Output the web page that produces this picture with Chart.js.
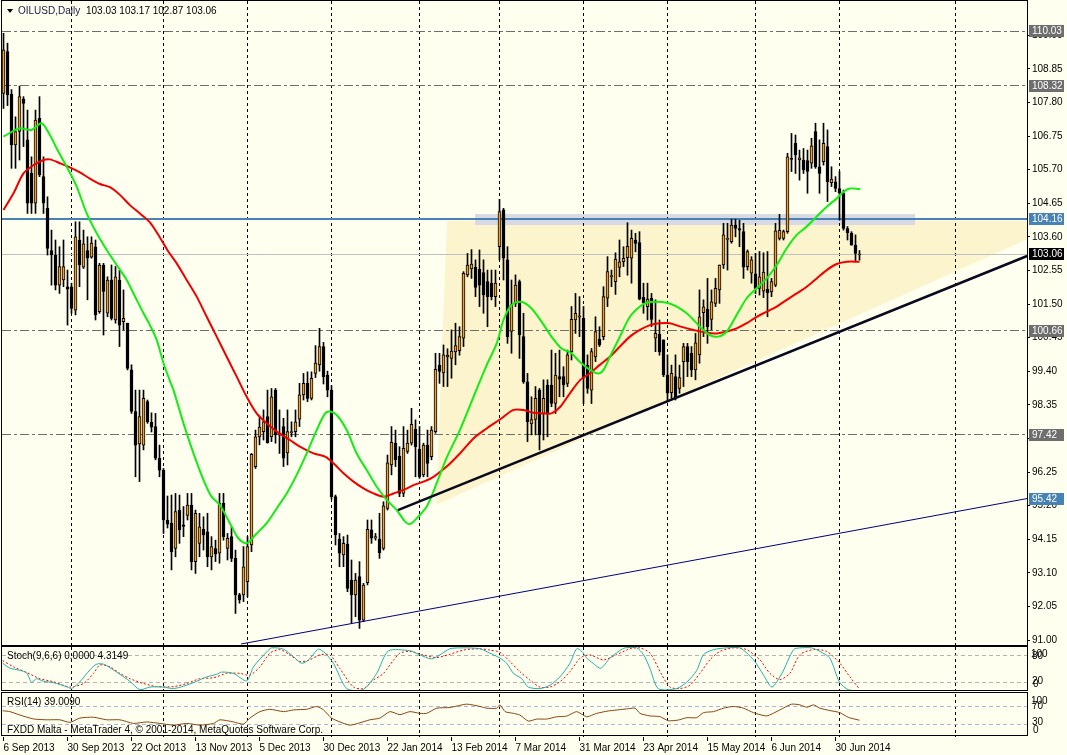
<!DOCTYPE html>
<html>
<head>
<meta charset="utf-8">
<script src="https://cdn.jsdelivr.net/npm/chart.js@4.4.1/dist/chart.umd.min.js"></script>
<style>
html, body { margin: 0; padding: 0; background: #fffff0; }
#wrap { position: relative; width: 1067px; height: 755px; background: #fffff0; overflow: hidden; }
canvas { position: absolute; left: 0; }
#cMain { top: 0; }
#cStoch { top: 646px; }
#cRsi { top: 692px; }
</style>
</head>
<body>
<div id="wrap">
  <canvas id="cMain" width="1067" height="646"></canvas>
  <canvas id="cStoch" width="1067" height="46"></canvas>
  <canvas id="cRsi" width="1067" height="63"></canvas>
</div>
<script>
// ---- data (bar index 0 = 6 Sep 2013, one bar per trading day) ----
const opens = [
  108.08,109.39,108.05,106.47,106.89,107.9,106.63,105.58,104.65,107.3,
  105.48,104.49,103.17,103.03,102.09,102.25,102.04,102.04,101.31,103.5,
  102.65,103.17,102.96,103.29,101.26,102.72,101.21,102.25,101.0,102.25,
  100.95,100.9,99.44,98.14,97.13,97.09,98.45,97.8,97.67,96.68,
  96.31,94.75,94.65,93.86,95.06,94.6,94.89,95.22,93.45,94.02,
  94.46,94.38,93.6,93.86,93.71,95.27,93.86,94.23,93.55,92.41,
  92.41,92.82,93.97,96.42,97.35,97.51,97.98,97.35,98.81,97.4,
  97.67,96.85,97.48,97.51,97.9,98.66,99.02,98.55,99.33,99.6,
  100.17,99.28,98.81,95.48,94.15,93.66,94.0,92.87,92.41,92.98,
  91.62,92.79,94.44,94.18,94.15,93.86,95.11,96.47,97.15,96.75,
  95.58,96.89,97.15,97.58,96.96,96.16,97.09,96.73,97.51,99.59,
  99.35,99.85,99.8,100.0,100.04,100.43,102.41,102.6,102.65,102.58,
  102.48,102.2,102.15,101.73,103.29,104.44,102.88,100.64,101.52,102.2,
  100.48,99.07,97.75,97.89,98.81,98.08,98.97,98.97,98.39,99.23,
  99.23,99.02,100.01,101.0,101.09,101.05,99.59,98.81,99.85,100.4,
  100.48,101.68,102.35,102.2,102.64,102.82,102.95,102.93,103.5,103.42,
  101.71,101.42,101.68,100.43,100.55,100.38,99.28,98.73,99.23,98.86,
  99.7,100.17,99.96,99.44,99.91,101.23,101.33,101.02,101.52,101.94,
  102.72,103.52,103.45,103.97,103.86,103.76,102.67,102.46,102.44,101.99,
  101.9,101.96,101.88,102.09,103.55,103.55,103.76,106.05,106.52,106.0,
  106.0,105.98,105.9,106.89,105.79,105.95,106.42,105.29,105.32,105.11,
  104.96,103.86,103.71,103.34,103.03
];
const highs = [
  109.96,109.65,108.2,107.35,108.31,107.98,107.56,106.1,107.56,107.98,
  106.1,104.85,103.81,103.5,103.29,103.5,102.56,102.15,104.07,104.07,
  103.81,103.6,103.6,103.5,102.77,102.77,102.35,102.72,102.67,102.56,
  101.94,100.9,99.6,98.81,98.81,98.81,98.5,98.1,98.08,97.09,
  96.36,95.5,95.53,95.58,95.53,95.17,95.58,95.58,95.06,94.96,
  94.85,94.96,94.23,94.12,95.58,95.58,94.33,94.54,93.81,92.46,
  93.92,94.23,96.83,97.56,98.0,98.19,98.81,98.86,98.86,98.19,
  97.93,98.19,97.82,98.19,99.02,99.33,99.38,99.38,100.2,100.74,
  100.3,99.4,98.95,95.53,94.33,94.23,94.28,93.5,93.08,93.45,
  92.77,94.75,94.75,94.33,94.96,95.32,96.78,97.67,97.56,97.04,
  97.67,97.56,98.24,97.88,97.67,97.15,97.56,97.67,99.96,99.96,
  100.22,100.1,100.69,100.9,100.79,102.51,103.08,103.2,102.88,103.19,
  102.88,102.56,102.56,102.56,104.77,104.49,103.29,102.25,102.41,102.25,
  101.21,99.33,98.6,98.92,98.86,99.13,99.13,100.06,99.96,100.06,
  99.54,100.06,101.42,101.83,101.73,101.42,99.91,100.11,101.1,100.79,
  102.04,102.98,102.56,103.1,103.5,103.29,104.04,103.81,103.71,103.76,
  102.15,102.15,101.83,101.63,101.0,100.38,99.91,99.59,99.91,99.59,
  100.27,100.27,100.17,100.58,101.94,101.63,102.3,101.94,102.3,102.72,
  104.02,104.02,104.15,104.15,104.12,104.02,103.19,102.98,103.08,103.14,
  103.1,103.14,102.3,104.02,104.3,103.81,106.21,106.83,106.78,106.31,
  106.36,106.31,106.68,107.15,106.63,107.15,106.94,105.79,105.48,105.64,
  105.06,103.92,103.76,103.66,103.17
];
const lows = [
  107.61,107.7,105.74,105.74,106.0,106.42,104.33,104.33,104.33,105.48,
  104.33,103.03,102.09,101.94,101.83,102.04,100.84,101.21,101.16,102.04,
  102.61,101.63,102.93,101.0,101.21,100.53,101.1,101.0,100.9,100.17,
  100.69,99.44,98.08,96.1,95.95,96.94,97.77,97.5,96.63,96.1,
  94.33,94.5,93.19,93.6,94.02,94.23,94.75,93.19,93.08,93.6,
  93.81,93.29,93.19,93.45,93.4,94.12,93.5,93.45,91.83,92.15,
  92.2,92.35,93.76,96.36,97.1,97.25,97.15,97.2,97.15,96.83,
  96.42,96.47,97.35,97.35,97.67,98.5,98.45,98.5,99.2,99.4,
  99.0,98.6,95.4,93.97,93.29,93.29,92.51,91.52,91.73,91.36,
  91.57,92.72,94.02,94.12,93.55,93.81,95.06,96.16,96.42,95.48,
  95.48,96.83,97.09,96.1,96.05,96.1,96.1,96.63,97.46,99.02,
  98.92,98.92,99.18,99.6,99.9,100.17,102.35,102.3,101.73,101.42,
  101.21,100.79,101.63,101.42,102.88,102.25,100.27,99.96,101.42,99.8,
  99.02,97.2,97.41,97.41,96.94,97.25,97.35,98.29,98.08,98.6,
  98.6,98.92,99.75,100.58,100.48,98.39,98.71,98.39,99.7,100.17,
  100.38,101.42,102.04,101.8,102.35,102.67,102.4,102.15,103.13,101.63,
  101.21,101.0,100.79,100.01,99.9,99.23,98.45,98.55,98.5,98.71,
  98.92,99.23,99.23,99.13,99.65,100.48,100.27,100.69,101.42,101.52,
  102.61,102.56,103.4,103.6,103.29,102.3,102.56,102.15,101.83,101.78,
  101.7,101.1,101.73,102.04,103.5,103.5,103.71,105.64,105.58,105.37,
  105.58,104.96,105.74,105.74,104.96,105.84,104.7,105.17,105.01,104.12,
  103.81,103.5,103.34,102.82,102.87
];
const closes = [
  109.44,108.03,106.47,106.89,107.98,107.77,104.65,104.65,107.25,105.53,
  104.65,103.24,103.03,102.09,102.67,102.67,101.96,101.36,103.6,102.72,
  103.38,102.93,103.4,101.16,102.72,101.89,102.25,101.05,102.35,100.84,
  101.05,99.49,98.14,97.09,97.98,98.55,97.82,97.65,96.68,96.31,
  94.75,94.62,93.76,95.01,94.44,94.55,95.22,93.45,94.96,94.54,
  94.28,93.6,93.92,93.68,95.27,94.23,94.18,93.55,92.41,92.25,
  93.29,93.92,96.8,97.35,97.65,97.82,97.17,98.6,97.41,97.46,
  96.68,97.51,97.5,97.82,98.66,99.02,98.55,99.18,99.65,100.17,
  99.23,98.81,95.48,94.28,93.71,94.02,92.61,92.41,92.87,91.62,
  92.72,94.46,94.18,94.23,93.73,95.19,96.54,97.18,96.63,95.58,
  96.99,97.15,97.74,97.04,96.1,97.09,96.52,97.56,99.46,99.39,
  99.91,99.9,100.03,100.2,100.48,102.46,102.72,102.75,102.02,102.09,
  101.78,101.73,101.73,102.15,104.39,102.93,100.48,101.48,102.09,100.53,
  99.07,97.82,97.89,98.55,97.41,98.55,98.08,98.39,99.28,99.15,
  98.97,99.91,101.02,101.21,101.13,99.18,98.86,100.01,100.64,100.22,
  101.73,102.51,102.39,102.9,102.82,102.93,103.3,103.55,103.39,101.65,
  101.54,101.65,101.02,100.58,100.0,99.28,98.71,99.33,98.55,99.2,
  100.17,99.7,99.44,100.29,101.1,101.41,100.79,101.57,101.99,102.72,
  103.66,103.55,103.97,103.86,103.81,102.65,103.14,102.88,101.99,102.35,
  102.5,101.85,102.2,103.79,103.8,103.76,106.1,106.02,106.16,106.07,
  105.69,105.64,106.44,105.79,105.58,106.52,105.32,105.4,105.11,104.96,
  103.86,103.73,103.34,103.08,103.06
];
const bars = opens.map((o, i) => i);

// moving averages, read as [bar, price]
const fastMA = [
  [0,106.73],[4,106.99],[7,106.94],[9.5,107.15],[11.6,106.78],[13.3,106.36],[15.8,105.79],[18.3,105.17],
  [20.8,104.33],[23.3,103.71],[25.8,103.19],[28.3,102.72],[30.8,102.25],[33.3,101.63],[35,101.21],[36.6,100.84],
  [38.3,100.38],[40,99.65],[41.6,99.1],[42.5,98.81],[45,97.77],[47.5,96.83],[50,96.0],[52,95.48],[54.1,95.22],
  [56.6,94.65],[58.7,94.18],[60.8,94.02],[63.3,94.33],[65.8,94.65],[68.3,95.11],[70.8,95.58],[73.3,96.16],
  [75.8,96.83],[78.3,97.56],[80.4,98.08],[81.6,98.14],[83.3,98.03],[85.8,97.56],[88.3,96.83],[90.8,96.31],
  [93.3,95.79],[95.8,95.38],[98.3,95.06],[100.4,94.7],[101.6,94.62],[103.3,94.8],[105.8,95.17],[108.3,95.9],
  [110.8,96.7],[114.1,97.56],[117.5,98.6],[120.8,99.59],[123.3,100.27],[125,101.0],[127,101.47],[129.5,101.57],
  [132,101.36],[134.5,100.95],[137,100.48],[139.5,100.11],[142,99.96],[144,99.7],[146.6,99.44],[148.7,99.33],
  [150,99.44],[151.6,99.85],[154.1,100.48],[156.6,101.1],[159.1,101.42],[160.8,101.54],[163.3,101.57],
  [165.8,101.54],[168.3,101.42],[170.8,101.21],[172.9,100.95],[174.1,100.79],[176.6,100.53],[178.7,100.48],
  [180.8,100.64],[183.3,101.16],[185.8,101.68],[188.3,101.99],[190.8,102.3],[193.3,102.72],[195.8,103.24],
  [198.3,103.66],[200.8,103.92],[203.3,104.23],[205.8,104.54],[208.3,104.8],[210,105.01],[211.6,105.11],[214.2,105.09]
];
const slowMA = [
  [0,104.44],[2.5,104.96],[5,105.58],[7.5,105.84],[10,106.0],[11.6,106.02],[14.1,105.9],[16.6,105.77],
  [19.1,105.61],[21.6,105.42],[24.1,105.25],[26.6,105.15],[29.1,104.91],[31.6,104.59],[34.1,104.33],[36.6,104.05],
  [39.1,103.58],[41.2,103.14],[43.3,102.77],[45.8,102.25],[48.3,101.73],[50.8,101.1],[53.3,100.48],[55.8,99.85],
  [58.3,99.23],[60.8,98.6],[63.3,98.08],[65.8,97.77],[68.3,97.51],[71.6,97.25],[74.1,97.04],[77.5,96.83],
  [80.4,96.73],[82.5,96.52],[85,96.21],[87.5,95.95],[90,95.74],[92.5,95.58],[95,95.48],[97.5,95.58],[100,95.69],
  [102.5,95.84],[105,95.95],[107.5,96.1],[110.8,96.42],[114.1,96.83],[117.5,97.3],[120.8,97.61],[124.2,97.9],
  [127.5,98.19],[130,98.19],[132.5,98.1],[135,98.08],[137,98.08],[139.2,98.29],[141.6,98.71],[144.2,99.13],
  [146.6,99.33],[149,99.59],[151.6,99.85],[154.1,100.17],[156.6,100.48],[159.1,100.69],[161.6,100.84],
  [164.1,100.9],[166.6,100.9],[169.1,100.8],[172.5,100.69],[175.8,100.6],[178.3,100.58],[180.8,100.64],
  [183.3,100.74],[185.8,100.9],[188.3,101.1],[190.8,101.26],[193.3,101.42],[195.8,101.63],[198.3,101.83],
  [200.8,102.04],[203.3,102.3],[205.8,102.56],[208.3,102.75],[210.8,102.82],[214,102.82]
];

// stochastic (9,6,6) %K and %D, RSI(14), read as [bar, value]
const stochK = [
  [-0.2,63],[1.6,52],[4.1,47],[5.8,41],[7,20],[8.3,28],[10,22],[12.5,19],[16,9],[17,5.5],[19,20],[21.6,48],
  [23.3,61],[25,61],[26.6,53],[29.1,38],[31.6,22],[34.1,3],[36.6,9],[39.9,9],[42.5,5.5],[45,11],[48.3,22],
  [50.8,32],[53.3,38],[54.5,43],[57.5,40],[60.8,23],[62.5,55],[65.8,89],[67,98],[70,95],[72.5,78],[74.5,63],
  [76.2,70],[78.7,95],[80.4,86],[82.5,63],[85.8,5.5],[89.9,3],[93.3,40],[96.2,91],[101.6,91.5],[104.1,82],
  [107,73],[109.1,82],[111.6,96],[115,98],[119.1,96],[121.6,86],[124.1,75],[125.8,63],[127.5,40],[129.5,28.5],
  [131.2,9],[134.1,5.5],[136.6,13],[139.1,32],[141.6,63],[143.3,96],[144.6,90],[145.8,75],[147.4,63],[149.3,51.6],
  [151.6,74.6],[154.1,92],[155.4,98],[158.3,98],[160,82.7],[161.6,51.6],[163.7,5.5],[168.3,5.5],[170.8,20],
  [173.3,46.5],[175,82.7],[177.5,94],[180.8,98],[184.1,98],[187.5,71],[190,36.4],[192.1,9],[194.6,40],[197.5,94],
  [199.1,98],[202,98],[204.1,90],[206.6,74.6],[209,20],[211.2,3],[214,0]
];
const stochD = [
  [-0.2,69],[2.5,55],[5.8,42],[9.1,28],[12.5,21],[16.6,9],[20,17],[22.5,40],[24.1,59],[26.6,55],[29.1,40],
  [31.6,28],[35,17],[38.3,10],[42.5,10],[45.8,17],[49.1,28],[52.5,30],[55.8,40],[59.1,40],[61.6,36],[64.1,55],
  [66.6,86],[69.1,94],[71.6,82],[74.1,67],[76.6,71],[79.1,82],[81.6,82],[84.1,51],[87.5,9],[90,5.5],[92.5,25],
  [95,40],[97.5,70],[99.1,86],[101.6,90],[104.9,82],[108.3,76],[111.6,83.5],[114.95,93],[119.1,96],[121.6,93],
  [124.1,88],[126.6,67],[129.1,44],[131.6,25],[134.1,9],[136.6,9],[139.1,21],[141.6,44],[144.2,75],[146.6,82],
  [150,70.5],[153.3,82.7],[156.6,96],[159.1,98],[161.6,86.5],[164.6,36.4],[166.6,9],[169.1,5.5],[171.6,13],
  [174.1,40],[176.6,71],[179.1,90],[182.5,98],[185.8,94],[189.1,71],[191.6,40],[194.1,26],[196.6,40],[199.1,82.7],
  [202.5,94],[205.8,90],[209.1,63],[211.6,32],[214,4.3]
];
const rsi = [
  [-0.2,61],[1.6,59],[4.1,51],[7.5,42],[10.8,40],[14.1,40],[16.6,34],[19.1,44],[22.5,46],[25.8,40],[29.1,40],
  [32.5,31.6],[35.8,35],[39.1,31.6],[42.5,27.6],[45.8,31.6],[49.1,27.6],[52.5,31.6],[54.1,40],[57.5,35],[60,30],
  [61.6,44],[64.1,59],[66.6,64.5],[70,59],[72.5,63],[75.8,64.5],[78.3,71],[80,63],[82,44],[84.1,35],[86.6,27.6],
  [89.1,33],[91.6,40],[94.1,44],[96.6,59],[99.1,52],[101.6,59],[104.1,55],[105.8,55],[108.3,67],[111.6,68.6],
  [115.8,76.4],[119.1,71],[120.8,67],[123.3,67],[124.1,74.8],[125.4,59],[127.5,55],[129.1,51],[131.2,37],
  [133.3,41.7],[135.8,41.7],[138.3,47],[140.8,48.6],[143.3,59],[145.8,47],[148.3,55],[151.2,60.5],[155.8,65.3],
  [157.9,67],[159.1,55],[161.6,49],[164.1,47.4],[166.2,37.8],[168.7,39.4],[170.8,44.9],[173.3,44.9],[175,56.7],
  [177.5,59],[180,67],[182.5,71],[185,67],[187.5,56.7],[190.8,49],[194.1,63],[197,76.3],[199.1,74.7],[200.8,69.2],
  [202.5,74.7],[204.1,67],[206.6,61.5],[209.1,56.7],[211.2,45.7],[214,39]
];

// drawn objects: trend lines, triangle, zone, horizontal levels
const supportLine = [[98.6,95.06],[255.9,103.0]];
const lowerLine = [[59.4,90.875],[255.9,95.42]];
const triangle = [[110.9,104.1],[108.1,95.22],[266.1,104.1]];
const zoneBars = [117.9, 227.9];
const zonePrices = [103.97, 104.31];
const dashLevels = [110.03, 108.32, 100.66, 97.42];
const resistance = 104.16;
const bid = 103.06;
const markerLevels = [110.03, 108.32, 104.16, 103.06, 100.66, 97.42, 95.42];

// axes
const priceTicks = [91.00,92.05,93.10,94.15,95.20,96.25,97.30,98.35,99.40,100.45,101.50,102.55,103.60,104.65,105.70,106.75,107.80,108.85,109.90];
const dateIdx = [0,16,32,48,64,80,96,112,128,144,160,176,192,208];
const dateLabels = ['6 Sep 2013','30 Sep 2013','22 Oct 2013','13 Nov 2013','5 Dec 2013','30 Dec 2013','22 Jan 2014',
  '13 Feb 2014','7 Mar 2014','31 Mar 2014','23 Apr 2014','15 May 2014','6 Jun 2014','30 Jun 2014'];
const monthIdx = [17,40,61,82,104,124,145,166,188,209,238];

// ---- styles ----
const FONT = "'Liberation Sans', Arial, sans-serif";
const FSIZE = 10;
const BG = '#fffff0';
const BULL = '#f0a030';
const markerColors = ['#6e6e6e','#6e6e6e','#4682b4','#000000','#6e6e6e','#6e6e6e','#4682b4'];
const X_MIN = -0.375, X_MAX = 255.875;
const P_MIN = 90.84375, P_MAX = 110.96875;

Chart.defaults.font.family = FONT;
Chart.defaults.font.size = FSIZE;
Chart.defaults.color = '#000';

const pts = arr => arr.map(p => ({x: p[0], y: p[1]}));

function hLine(chart, v, color, width, dash) {
  const {ctx, chartArea: a, scales: {y}} = chart;
  let py = y.getPixelForValue(v);
  if (width % 2 === 1) py = Math.round(py - 0.5) + 0.5;
  ctx.save();
  ctx.strokeStyle = color; ctx.lineWidth = width; ctx.setLineDash(dash || []);
  ctx.beginPath(); ctx.moveTo(a.left, py); ctx.lineTo(a.right, py); ctx.stroke();
  ctx.restore();
}

function monthGrid(chart) {
  const {ctx, chartArea: a, scales: {x}} = chart;
  ctx.save();
  ctx.strokeStyle = '#000'; ctx.lineWidth = 1; ctx.setLineDash([3, 3]);
  monthIdx.forEach(i => {
    const px = Math.round(x.getPixelForValue(i) - 0.5) + 0.5;
    if (px < a.left || px > a.right) return;
    ctx.beginPath(); ctx.moveTo(px, a.top); ctx.lineTo(px, a.bottom); ctx.stroke();
  });
  ctx.restore();
}

function frame(chart, top, bottom) {
  const {ctx, chartArea: a} = chart;
  ctx.save();
  ctx.strokeStyle = '#000'; ctx.lineWidth = 1;
  ctx.strokeRect(a.left - 0.5, top, a.right - a.left + 1, bottom - top);
  ctx.restore();
}

function text(ctx, s, x, y, color) {
  ctx.fillStyle = color || '#000';
  ctx.textBaseline = 'middle';
  ctx.textAlign = 'left';
  ctx.fillText(s, x, y);
}

const bgPlugin = {
  id: 'bg',
  beforeDraw(chart) {
    const ctx = chart.ctx;
    ctx.save(); ctx.fillStyle = BG; ctx.fillRect(0, 0, chart.width, chart.height); ctx.restore();
  }
};

const mainDecor = {
  id: 'mainDecor',
  beforeDatasetsDraw(chart) {
    const {ctx, chartArea: a, scales: {x, y}} = chart;
    ctx.save();
    ctx.beginPath(); ctx.rect(a.left, a.top, a.right - a.left, a.bottom - a.top); ctx.clip();
    // triangle object
    ctx.fillStyle = '#fcf4cc';
    ctx.beginPath();
    triangle.forEach((p, i) => {
      const px = x.getPixelForValue(p[0]), py = y.getPixelForValue(p[1]);
      if (i === 0) ctx.moveTo(px, py); else ctx.lineTo(px, py);
    });
    ctx.closePath(); ctx.fill();
    // zone rectangle
    const zx0 = x.getPixelForValue(zoneBars[0]), zx1 = x.getPixelForValue(zoneBars[1]);
    const zy0 = y.getPixelForValue(zonePrices[1]), zy1 = y.getPixelForValue(zonePrices[0]);
    ctx.fillStyle = '#d9d9e3';
    ctx.fillRect(zx0, zy0, zx1 - zx0, zy1 - zy0);
    ctx.restore();
    monthGrid(chart);
    dashLevels.forEach(v => hLine(chart, v, '#6e6e6e', 1, [9, 3, 3, 3]));
    hLine(chart, bid, '#c0c0c0', 1);
    hLine(chart, resistance, '#4682b4', 2);
  },
  afterDraw(chart) {
    const {ctx, chartArea: a, scales: {y}} = chart;
    frame(chart, 0.5, 645.5);
    ctx.save();
    ctx.font = FSIZE + 'px ' + FONT;
    // title
    ctx.fillStyle = '#000';
    ctx.beginPath(); ctx.moveTo(7, 9); ctx.lineTo(13, 9); ctx.lineTo(10, 13); ctx.closePath(); ctx.fill();
    text(ctx, 'OILUSD,Daily', 18, 11, '#1a1a40');
    text(ctx, '103.03 103.17 102.87 103.06', 86, 11);
    // price markers on the right axis
    markerLevels.forEach((v, i) => {
      const py = Math.round(y.getPixelForValue(v));
      ctx.fillStyle = markerColors[i];
      ctx.fillRect(a.right + 2, py - 6, 35, 12);
      text(ctx, v.toFixed(2), a.right + 5, py, '#fff');
    });
    ctx.restore();
  }
};

new Chart(document.getElementById('cMain'), {
  type: 'bar',
  data: {
    datasets: [
      {type: 'line', data: pts(supportLine), borderColor: '#0a0a1e', borderWidth: 2.5, pointRadius: 0, order: 1},
      {type: 'line', data: pts(lowerLine), borderColor: '#000080', borderWidth: 1, pointRadius: 0, order: 2},
      {type: 'line', data: pts(fastMA), borderColor: '#11ee11', borderWidth: 2, pointRadius: 0, tension: 0.3, order: 3},
      {type: 'line', data: pts(slowMA), borderColor: '#f00000', borderWidth: 2, pointRadius: 0, tension: 0.3, order: 4},
      {
        data: bars.map(i => ({x: i, y: [opens[i], closes[i]]})),
        backgroundColor: bars.map(i => closes[i] >= opens[i] ? BULL : '#000'),
        borderColor: '#000', borderWidth: 1, borderSkipped: false,
        barThickness: 3, minBarLength: 1, grouped: false, order: 5
      },
      {
        data: bars.map(i => ({x: i, y: [lows[i], highs[i]]})),
        backgroundColor: '#000', borderWidth: 0,
        barThickness: 1, grouped: false, order: 6
      }
    ]
  },
  options: {
    responsive: false, animation: false, devicePixelRatio: 1,
    layout: {padding: {left: 2, top: 1, right: 0, bottom: 1}},
    plugins: {legend: {display: false}, tooltip: {enabled: false}},
    scales: {
      x: {type: 'linear', min: X_MIN, max: X_MAX, display: false, offset: false},
      y: {
        position: 'right', min: P_MIN, max: P_MAX,
        afterBuildTicks: s => { s.ticks = priceTicks.map(v => ({value: v})); },
        afterFit: s => { s.width = 40; s.paddingTop = 0; s.paddingBottom = 0; },
        ticks: {callback: v => v.toFixed(2), color: '#000', padding: 2, autoSkip: false},
        grid: {drawOnChartArea: false, tickLength: 3, color: '#000'},
        border: {display: false}
      }
    }
  },
  plugins: [bgPlugin, mainDecor]
});

function panelScales(withDates) {
  return {
    x: withDates ? {
      type: 'linear', min: X_MIN, max: X_MAX, offset: false,
      afterBuildTicks: s => { s.ticks = dateIdx.map(v => ({value: v})); },
      afterFit: s => { s.height = 18; s.paddingLeft = 0; s.paddingRight = 0; },
      ticks: {callback: v => dateLabels[dateIdx.indexOf(v)], align: 'start', maxRotation: 0, minRotation: 0, autoSkip: false, padding: 1, color: '#000'},
      grid: {drawOnChartArea: false, tickLength: 4, color: '#000'},
      border: {display: false}
    } : {type: 'linear', min: X_MIN, max: X_MAX, display: false, offset: false},
    y: {
      position: 'right', min: 0, max: 100,
      afterFit: s => { s.width = 40; s.paddingTop = 0; s.paddingBottom = 0; },
      ticks: {display: false}, grid: {display: false}, border: {display: false}
    }
  };
}

const stochDecor = {
  id: 'stochDecor',
  beforeDatasetsDraw(chart) {
    monthGrid(chart);
    [80, 20].forEach(v => hLine(chart, v, '#b4b4b4', 1, [4, 3]));
  },
  afterDraw(chart) {
    const {ctx, chartArea: a, scales: {y}} = chart;
    frame(chart, 0.5, 44.5);
    ctx.save();
    ctx.font = FSIZE + 'px ' + FONT;
    text(ctx, 'Stoch(9,6,6) 0.0000 4.3149', 7, 10);
    const y80 = y.getPixelForValue(80), y20 = y.getPixelForValue(20);
    text(ctx, '100', a.right + 4, y80 - 2);
    text(ctx, '80', a.right + 5, y80);
    text(ctx, '20', a.right + 5, y20 - 1);
    text(ctx, '0', a.right + 6, y20 + 2);
    ctx.restore();
  }
};

new Chart(document.getElementById('cStoch'), {
  type: 'line',
  data: {
    datasets: [
      {data: pts(stochK), borderColor: '#20b2aa', borderWidth: 1, pointRadius: 0, tension: 0.25},
      {data: pts(stochD), borderColor: '#ff0000', borderWidth: 1, borderDash: [2, 2], pointRadius: 0, tension: 0.25}
    ]
  },
  options: {
    responsive: false, animation: false, devicePixelRatio: 1,
    layout: {padding: {left: 2, top: 1, right: 0, bottom: 1}},
    plugins: {legend: {display: false}, tooltip: {enabled: false}},
    scales: panelScales(false)
  },
  plugins: [bgPlugin, stochDecor]
});

const rsiDecor = {
  id: 'rsiDecor',
  beforeDatasetsDraw(chart) {
    monthGrid(chart);
    [70, 30].forEach(v => hLine(chart, v, '#a8b8d8', 1, [4, 3]));
  },
  afterDraw(chart) {
    const {ctx, chartArea: a, scales: {y}} = chart;
    frame(chart, 0.5, 43.5);
    ctx.save();
    ctx.font = FSIZE + 'px ' + FONT;
    text(ctx, 'RSI(14) 39.0090', 7, 10);
    text(ctx, 'FXDD Malta - MetaTrader 4, \u00a9 2001-2014, MetaQuotes Software Corp.', 7, 38);
    const y70 = y.getPixelForValue(70), y30 = y.getPixelForValue(30);
    text(ctx, '100', a.right + 4, y70 - 6);
    text(ctx, '70', a.right + 5, y70 - 1);
    text(ctx, '30', a.right + 5, y30 - 2);
    text(ctx, '0', a.right + 6, y30 + 6);
    ctx.restore();
  }
};

new Chart(document.getElementById('cRsi'), {
  type: 'line',
  data: {
    datasets: [
      {data: pts(rsi), borderColor: '#8b4513', borderWidth: 1, pointRadius: 0, tension: 0.2}
    ]
  },
  options: {
    responsive: false, animation: false, devicePixelRatio: 1,
    layout: {padding: {left: 2, top: 2, right: 0, bottom: 0}},
    plugins: {legend: {display: false}, tooltip: {enabled: false}},
    scales: panelScales(true)
  },
  plugins: [bgPlugin, rsiDecor]
});
</script>
</body>
</html>
